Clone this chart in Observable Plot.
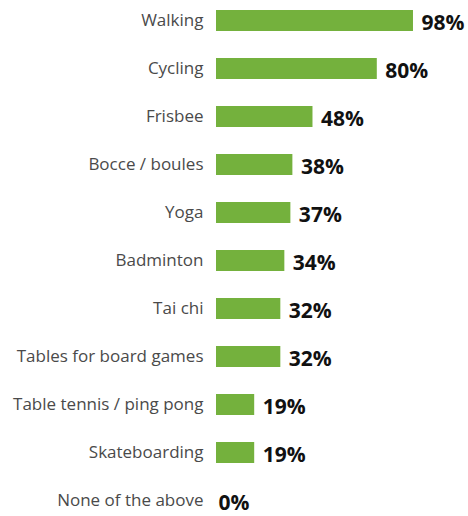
<!DOCTYPE html>
<html>
<head>
<meta charset="utf-8">
<script src="https://cdn.jsdelivr.net/npm/d3@7"></script>
<script src="https://cdn.jsdelivr.net/npm/@observablehq/plot@0.6"></script>
<style>
  body { margin: 0; background: #fff; }
  #chart svg { display: block; }
</style>
</head>
<body>
<div id="chart"></div>
<script>
const activities = ["Walking", "Cycling", "Frisbee", "Bocce / boules", "Yoga", "Badminton", "Tai chi", "Tables for board games", "Table tennis / ping pong", "Skateboarding", "None of the above"];
const shares = [98, 80, 48, 38, 37, 34, 32, 32, 19, 19, 0];

const data = activities.map((a, i) => ({activity: a, value: shares[i]}));

const chart = Plot.plot({
  width: 468,
  height: 516,
  marginLeft: 216,
  marginRight: 51,
  marginTop: 0,
  marginBottom: 0,
  style: {fontFamily: "'Open Sans', sans-serif", background: "#fff"},
  x: {domain: [0, 100], axis: null},
  y: {domain: activities, range: [-4.6, 525.6], paddingInner: 0.564, paddingOuter: 0.282, label: null},
  marks: [
    Plot.axisY({tickSize: 0, tickPadding: 13, fontSize: 17, fill: "#4a4a4a", label: null}),
    Plot.barX(data, {x: "value", y: "activity", fill: "#74b13d"}),
    Plot.text(data.filter(d => d.value > 0), {x: "value", y: "activity", text: d => d.value + "%", textAnchor: "start", dx: 8, dy: 2, fontSize: 21, fontWeight: "bold", fill: "#111"}),
    Plot.text(data.filter(d => d.value === 0), {x: "value", y: "activity", text: d => d.value + "%", textAnchor: "start", dx: 2, dy: 2, fontSize: 21, fontWeight: "bold", fill: "#111"})
  ]
});
document.getElementById("chart").append(chart);
</script>
</body>
</html>
